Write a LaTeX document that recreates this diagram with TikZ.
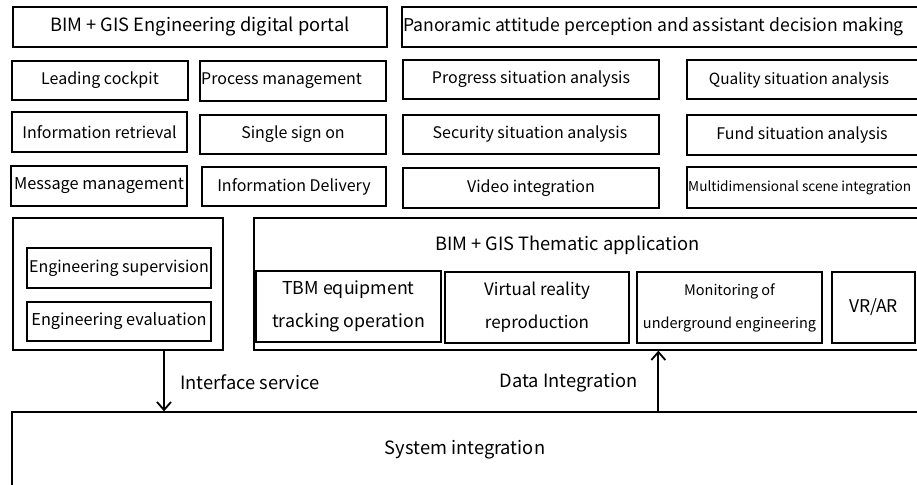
\documentclass[tikz,border=0pt]{standalone}
\usepackage{fontspec}
\setmainfont{Noto Sans CJK SC}
\usetikzlibrary{arrows.meta}
\tikzset{
  box/.style={draw, line width=1.3pt, inner sep=0pt, font=\fontsize{16}{20}\selectfont},
  lbl/.style={inner sep=0pt, font=\fontsize{16}{20}\selectfont},
  head/.style={font=\fontsize{18.3}{22}\selectfont},
  twoline/.style={box, align=center, font=\fontsize{15}{33}\selectfont},
  arr/.style={line width=1.8pt, -{Straight Barb[length=8pt,width=14pt,line width=1.8pt]}}
}
% rectangle node from its corners (x1,y1) to (x2,y2), y counted downward
\newcommand\boxat[6][box]{%
  \node[#1, minimum width=#5-#3, minimum height=#6-#4] (#2) at ({(#3+#5)/2},{(#4+#6)/2}) {};}
\begin{document}
\begin{tikzpicture}[x=1pt,y=-1pt]
\useasboundingbox (0,0) rectangle (917,484);
\clip (0,0) rectangle (917,484);
% portal row
\node[box, head, minimum width=374pt, minimum height=40pt] (portal) at (200,27) {BIM + GIS Engineering digital portal};
\boxat{panor}{402}{7}{930}{47}
\node[lbl, anchor=west, font=\fontsize{17.6}{22}\selectfont] (panort) at (403,27) {Panoramic attitude perception and assistant decision making};
% portal functions
\node[box, minimum width=176pt, minimum height=39pt] (cockpit) at (100,80.5) {Leading cockpit};
\boxat{process}{200}{61}{386}{101}
\node[lbl, anchor=west] (processt) at (201,81) {Process management};
\node[box, minimum width=175pt, minimum height=40pt] (retr) at (99.5,132) {Information retrieval};
\node[box, minimum width=186pt, minimum height=39pt] (sso) at (293,134.5) {Single sign on};
\node[box, minimum width=176pt, minimum height=40pt, font=\fontsize{16.3}{20}\selectfont] (msg) at (99,186) {Message management};
\node[box, minimum width=184pt, minimum height=39pt] (deliv) at (294,186.5) {Information Delivery};
% situation analysis
\node[box, minimum width=256pt, minimum height=39pt] (progress) at (531,79.5) {Progress situation analysis};
\boxat{quality}{687}{60}{930}{99}
\node[lbl, font=\fontsize{15.4}{20}\selectfont] (qualityt) at (799,80) {Quality situation analysis};
\boxat{security}{403}{115}{659}{154}
\node[lbl] (securityt) at (530,134.5) {Security situation analysis};
\boxat{fund}{687}{115}{930}{155}
\node[lbl] (fundt) at (802,135) {Fund situation analysis};
\node[box, minimum width=256pt, minimum height=40pt] (video) at (531,188) {Video integration};
\boxat{multi}{687}{167}{930}{208}
\node[lbl, anchor=west, font=\fontsize{13.6}{15}\selectfont] (multit) at (688,187.5) {Multidimensional scene integration};
% engineering block
\boxat{lft}{13}{218}{223}{350}
\node[box, minimum width=184pt, minimum height=40pt] (sup) at (119,268) {Engineering supervision};
\node[box, minimum width=184pt, minimum height=39pt, font=\fontsize{16.3}{20}\selectfont] (evalu) at (119,321.5) {Engineering evaluation};
% thematic application block
\boxat{them}{254}{218}{930}{350}
\node[lbl, head] (themt) at (567.5,245) {BIM + GIS Thematic application};
\node[twoline, minimum width=185pt, minimum height=71pt, font=\fontsize{17.8}{33}\selectfont] (tbm) at (348.5,306.5) {TBM equipment\\tracking operation};
\node[twoline, minimum width=184pt, minimum height=71pt, font=\fontsize{17}{33}\selectfont] (vrr) at (537,307.5) {Virtual reality\\reproduction};
\node[twoline, minimum width=185pt, minimum height=71pt, font=\fontsize{14.5}{33}\selectfont] (mon) at (729.5,307.5) {Monitoring of\\underground engineering};
\node[box, minimum width=83pt, minimum height=71pt, font=\fontsize{17.5}{20}\selectfont] (vrar) at (873.5,307.5) {VR/AR};
% system integration
\boxat{sys}{12}{412}{930}{500}
\node[lbl, head] (syst) at (465,450) {System integration};
% connectors
\draw[arr] ([xshift=46pt]lft.south) -- ([xshift=46pt]lft.south |- sys.north);
\draw[arr] ([xshift=22pt]mon.south west |- sys.north) -- ([xshift=22pt]mon.south west |- them.south);
\node[lbl, head, anchor=west] (ifacet) at (180,382) {Interface service};
\node[lbl, head] (datat) at (568.5,383) {Data Integration};
\end{tikzpicture}
\end{document}
